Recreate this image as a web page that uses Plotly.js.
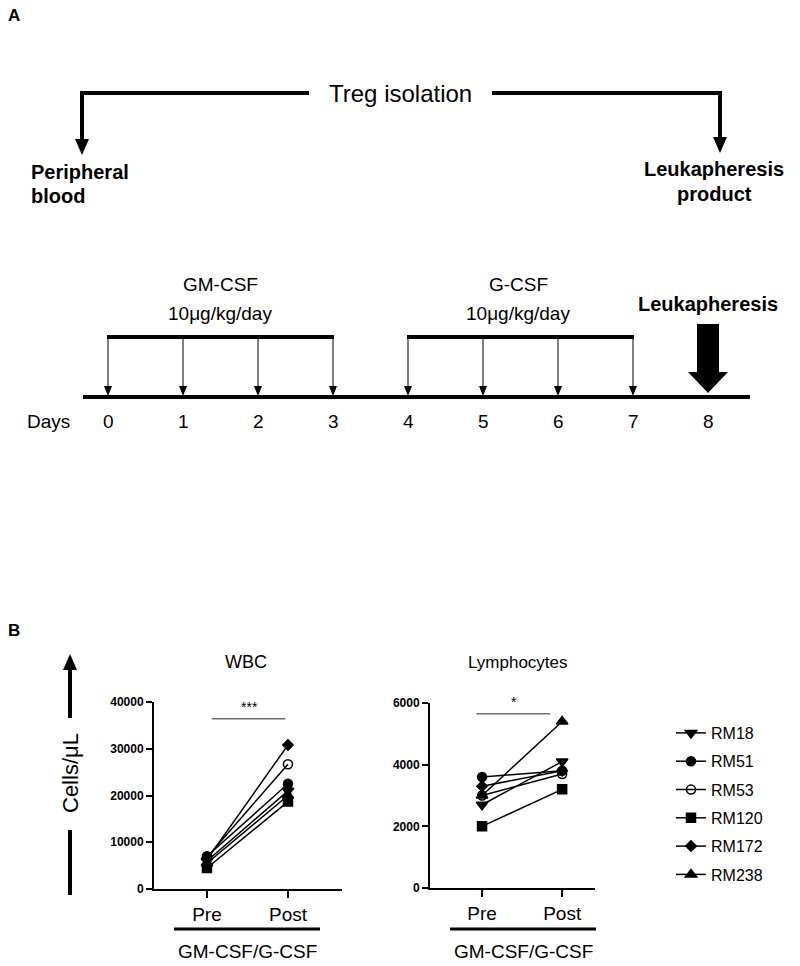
<!DOCTYPE html>
<html>
<head>
<meta charset="utf-8">
<script src="https://cdn.plot.ly/plotly-3.0.1.min.js"></script>
<style>html,body{margin:0;padding:0;background:#fff;}#plot{width:800px;height:966px;}</style>
</head>
<body>
<div id="plot"></div>
<script>
// ---- data ----
const categories = ['Pre', 'Post'];
const subjects = ['RM18', 'RM51', 'RM53', 'RM120', 'RM172', 'RM238'];
const symbols = ['triangle-down', 'circle', 'circle-open', 'square', 'diamond', 'triangle-up'];
const wbcPre = [6000, 7000, 6800, 4500, 6300, 5500];
const wbcPost = [21000, 22500, 26700, 18700, 30800, 20000];
const lymPre = [2700, 3600, 3000, 2000, 3300, 3000];
const lymPost = [4100, 3800, 3700, 3200, 3800, 5400];
const wbcTicks = [0, 10000, 20000, 30000, 40000];
const lymTicks = [0, 2000, 4000, 6000];
const days = [0, 1, 2, 3, 4, 5, 6, 7, 8];
const gmcsfDays = [0, 1, 2, 3];
const gcsfDays = [4, 5, 6, 7];
const leukDay = 8;

// ---- helpers (pixel -> paper) ----
const W = 800, H = 966;
const X = p => p / W;
const Y = p => 1 - p / H;
const FONT = 'Liberation Sans, Arial, sans-serif';
const shapes = [];
const annotations = [];
function line(x0, y0, x1, y1, w, c) {
  shapes.push({type: 'line', xref: 'paper', yref: 'paper', x0: X(x0), y0: Y(y0), x1: X(x1), y1: Y(y1),
    line: {color: c || 'black', width: w}});
}
function poly(pts) {
  let d = pts.map((p, i) => (i ? 'L' : 'M') + X(p[0]) + ',' + Y(p[1])).join(' ') + ' Z';
  shapes.push({type: 'path', xref: 'paper', yref: 'paper', path: d, fillcolor: 'black', line: {color: 'black', width: 0}});
}
function text(t, x, y, size, bold, extra) {
  annotations.push(Object.assign({text: t, xref: 'paper', yref: 'paper', x: X(x), y: Y(y), showarrow: false,
    xanchor: 'center', yanchor: 'middle', font: {family: FONT, size: size, color: 'black', weight: bold ? 'bold' : 'normal'}}, extra || {}));
}

// ---- panel A ----
text('A', 14, 16, 17, true);
text('Treg isolation', 400, 93, 24, false);
line(309, 93, 80, 93, 4);
line(82, 91, 82, 142, 4);
poly([[75, 139], [89, 139], [82, 155]]);
line(492, 93, 722, 93, 4);
line(720, 91, 720, 140, 4);
poly([[713, 137], [727, 137], [720, 153]]);
text('Peripheral', 80, 172, 20, true);
text('blood', 58, 196, 20, true);
text('Leukapheresis', 714, 169, 20, true);
text('product', 714, 194, 20, true);

// timeline
const dayX = d => 108 + d * 75;
line(83, 397, 750, 397, 4);
line(dayX(gmcsfDays[0]) - 1, 337, dayX(gmcsfDays[gmcsfDays.length - 1]) + 1, 337, 4);
line(dayX(gcsfDays[0]) - 1, 337, dayX(gcsfDays[gcsfDays.length - 1]) + 1, 337, 4);
gmcsfDays.concat(gcsfDays).forEach(d => {
  const x = dayX(d);
  line(x, 337, x, 388, 1);
  poly([[x - 4, 386], [x + 4, 386], [x, 396]]);
});
const lx = dayX(leukDay);
poly([[lx - 11, 324], [lx + 11, 324], [lx + 11, 372], [lx + 20, 372], [lx, 393], [lx - 20, 372], [lx - 11, 372]]);
text('GM-CSF', 220, 284, 19, false);
text('10μg/kg/day', 220, 313, 19, false);
text('G-CSF', 518, 284, 19, false);
text('10μg/kg/day', 518, 313, 19, false);
text('Leukapheresis', lx, 304, 20, true);
text('Days', 48, 421, 19, false);
days.forEach(d => text(String(d), dayX(d), 421, 19, false));

// ---- panel B ----
text('B', 14, 630, 17, true);
// Cells/μL label with arrow
line(70, 718, 70, 668, 4);
poly([[63, 670], [77, 670], [70, 654]]);
line(70, 830, 70, 895, 4);
text('Cells/μL', 70, 773, 22, false, {textangle: -90});
text('WBC', 246, 662, 18, false);
text('Lymphocytes', 518, 662, 17, false);
line(174, 929, 320, 929, 3);
line(450, 929, 596, 929, 3);
text('GM-CSF/G-CSF', 247, 951, 19, false);
text('GM-CSF/G-CSF', 523, 951, 19, false);

// significance bars (data coordinates)
shapes.push({type: 'line', xref: 'x', yref: 'y', x0: 0.06, x1: 0.97, y0: 36400, y1: 36400, line: {color: '#707070', width: 1.5}});
text('***', 249, 707, 14, false);
shapes.push({type: 'line', xref: 'x2', yref: 'y2', x0: -0.07, x1: 0.85, y0: 5650, y1: 5650, line: {color: '#707070', width: 1.5}});
text('*', 514, 702, 14, false);

const sizes = {'triangle-down': 10, 'circle': 9, 'circle-open': 9, 'square': 9, 'diamond': 8, 'triangle-up': 10};
const traces = [];
subjects.forEach((s, i) => {
  const marker = {symbol: symbols[i], size: sizes[symbols[i]], color: 'black', line: {color: 'black', width: 1.5}};
  traces.push({type: 'scatter', mode: 'lines+markers', x: categories, y: [wbcPre[i], wbcPost[i]], name: s,
    legendgroup: s, showlegend: true, xaxis: 'x', yaxis: 'y', line: {color: 'black', width: 1.5}, marker: marker, cliponaxis: false});
  traces.push({type: 'scatter', mode: 'lines+markers', x: categories, y: [lymPre[i], lymPost[i]], name: s,
    legendgroup: s, showlegend: false, xaxis: 'x2', yaxis: 'y2', line: {color: 'black', width: 1.5}, marker: marker, cliponaxis: false});
});

const xCommon = {type: 'category', showline: true, linewidth: 2, linecolor: 'black', ticks: 'outside', ticklen: 7, tickwidth: 2,
  tickcolor: 'black', showgrid: false, zeroline: false, tickfont: {family: FONT, size: 19, color: 'black'}, fixedrange: true};
const yCommon = {showline: true, linewidth: 2, linecolor: 'black', ticks: 'outside', ticklen: 6, tickwidth: 2, tickcolor: 'black',
  showgrid: false, zeroline: false, tickformat: 'd', tickfont: {family: FONT, size: 12, color: 'black', weight: 'bold'}, fixedrange: true};

const layout = {
  width: W, height: H, autosize: false,
  margin: {l: 0, r: 0, t: 0, b: 0, pad: 0},
  paper_bgcolor: 'white', plot_bgcolor: 'white',
  font: {family: FONT, color: 'black'},
  xaxis: Object.assign({}, xCommon, {domain: [X(154), X(342)], range: [-0.654, 1.667], anchor: 'y'}),
  yaxis: Object.assign({}, yCommon, {domain: [Y(889), Y(702)], range: [0, 40000], tickvals: wbcTicks, ticktext: wbcTicks.map(String), anchor: 'x'}),
  xaxis2: Object.assign({}, xCommon, {domain: [X(430), X(595)], range: [-0.65, 1.41], anchor: 'y2'}),
  yaxis2: Object.assign({}, yCommon, {domain: [Y(888), Y(703)], range: [0, 6000], tickvals: lymTicks, ticktext: lymTicks.map(String), anchor: 'x2'}),
  showlegend: true,
  legend: {x: X(671), y: Y(716), xanchor: 'left', yanchor: 'top', font: {family: FONT, size: 16, color: 'black'},
    tracegroupgap: 4.5, itemwidth: 30, bgcolor: 'rgba(0,0,0,0)'},
  shapes: shapes,
  annotations: annotations
};

Plotly.newPlot('plot', traces, layout, {staticPlot: true, displayModeBar: false});
</script>
</body>
</html>
